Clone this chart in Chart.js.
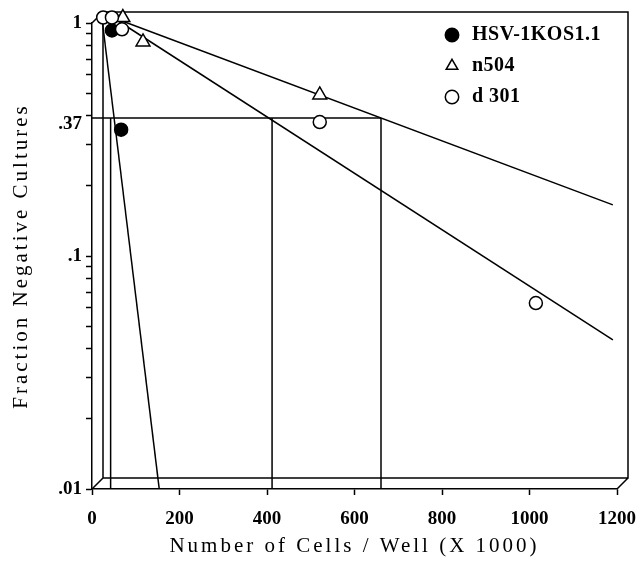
<!DOCTYPE html>
<html>
<head>
<meta charset="utf-8">
<script src="https://cdn.jsdelivr.net/npm/chart.js@4.4.1/dist/chart.umd.min.js"></script>
<style>
  html, body { margin: 0; padding: 0; background: #fff; }
</style>
</head>
<body>
<canvas id="myChart" width="638" height="565"></canvas>
<script>
// points (x in thousands of cells, y = fraction negative)
const hsvX = [33, 54];
const hsvY = [0.88, 0.33];
const n504X = [58, 104, 508];
const n504Y = [1, 0.785, 0.465];
const d301X = [13, 33, 56, 508, 1002];
const d301Y = [1, 1, 0.89, 0.356, 0.0595];

// fitted lines, two ends each
const hsvFitX = [10, 141];
const hsvFitY = [1, 0.0095];
const n504FitX = [35, 1178];
const n504FitY = [1, 0.157];
const d301FitX = [35, 1178];
const d301FitY = [1, 0.0413];

// the 1/e level and where the fits cross it
const level37 = 0.37;
const crossX = [30, 399, 648];

const xTicks = [0, 200, 400, 600, 800, 1000, 1200];
const yTicks = [1, 0.37, 0.1, 0.01];
const yTickLabels = ['1', '.37', '.1', '.01'];
const yMinor = [0.9, 0.8, 0.7, 0.6, 0.5, 0.4, 0.3, 0.2, 0.09, 0.08, 0.07, 0.06, 0.05, 0.04, 0.03, 0.02];

// front face of the box frame
const PLOT = { left: 92, top: 23, right: 617, bottom: 489 };
const DEPTH = 11;          // depth of the 3d frame, px
const HALF = DEPTH / 2;    // marks sit on the middle plane
const pxPerX = (PLOT.right - PLOT.left) / 1200;
const pxPerDecade = (PLOT.bottom - PLOT.top) / 2;
const xdMin = -HALF / pxPerX;
const xdMax = 1200 + xdMin;
const ydMax = Math.pow(10, -HALF / pxPerDecade);
const ydMin = ydMax / 100;

const pts = (xs, ys) => xs.map((x, i) => ({ x: x, y: ys[i] }));

Chart.defaults.font.family = "'Liberation Serif', 'Times New Roman', serif";
Chart.defaults.color = '#000';

const line = {
  showLine: true, borderColor: '#000', borderWidth: 1.5, pointRadius: 0,
  fill: false, order: 10, xAxisID: 'xd', yAxisID: 'yd', clip: false
};
const marks = { xAxisID: 'xd', yAxisID: 'yd', clip: false, borderColor: '#000', borderWidth: 1.5 };

const datasets = [
  { ...marks, label: 'HSV-1KOS1.1', data: pts(hsvX, hsvY), pointStyle: 'circle', pointRadius: 6.5, backgroundColor: '#000', order: 3 },
  { ...marks, label: 'n504', data: pts(n504X, n504Y), pointStyle: 'triangle', pointRadius: 8, backgroundColor: '#fff', order: 2 },
  { ...marks, label: 'd 301', data: pts(d301X, d301Y), pointStyle: 'circle', pointRadius: 6.5, backgroundColor: '#fff', order: 1 },
  { ...line, label: 'fit1', data: pts(hsvFitX, hsvFitY) },
  { ...line, label: 'fit2', data: pts(n504FitX, n504FitY) },
  { ...line, label: 'fit3', data: pts(d301FitX, d301FitY) },
  { ...line, label: 'e', data: [{ x: xdMin, y: level37 }, { x: crossX[2], y: level37 }] }
].concat(crossX.map(x => ({ ...line, label: 'drop', data: [{ x: x, y: level37 }, { x: x, y: ydMin }] })));

const frame3d = {
  id: 'frame3d',
  beforeDraw(chart) {
    chart.ctx.letterSpacing = '3px';   // spaced-out axis titles
  },
  afterLayout(chart) {
    // park the legend in the upper right of the plot
    const lg = chart.legend;
    const h = lg.height;
    lg.left = 431; lg.top = 14;
    lg.right = 638; lg.bottom = lg.top + h;
    lg.width = lg.right - lg.left;
    if (!lg._tight) {
      const draw = lg.draw.bind(lg);
      lg.draw = (area) => {
        const old = lg.ctx.letterSpacing;
        lg.ctx.letterSpacing = '0.5px';
        draw(area);
        lg.ctx.letterSpacing = old;
      };
      lg._tight = true;
    }
  },
  beforeDatasetsDraw(chart) {
    const { ctx, chartArea: a } = chart;
    ctx.save();
    ctx.strokeStyle = '#000';
    ctx.lineWidth = 1.5;
    ctx.beginPath();
    ctx.rect(a.left + DEPTH, a.top - DEPTH, a.right - a.left, a.bottom - a.top);
    ctx.moveTo(a.left, a.bottom); ctx.lineTo(a.left + DEPTH, a.bottom - DEPTH);
    ctx.moveTo(a.right, a.bottom); ctx.lineTo(a.right + DEPTH, a.bottom - DEPTH);
    ctx.moveTo(a.left, a.top); ctx.lineTo(a.left + DEPTH, a.top - DEPTH);
    ctx.stroke();
    ctx.restore();
    ctx.letterSpacing = '0px';
  }
};

const noEdgePad = (s) => { s.paddingLeft = 0; s.paddingRight = 0; s.paddingTop = 0; s.paddingBottom = 0; };

new Chart(document.getElementById('myChart'), {
  type: 'scatter',
  data: { datasets: datasets },
  options: {
    responsive: false,
    animation: false,
    devicePixelRatio: 1,
    layout: { padding: { top: PLOT.top, right: 638 - PLOT.right, left: 0, bottom: 0 } },
    plugins: {
      tooltip: { enabled: false },
      legend: {
        position: 'chartArea',
        align: 'start',
        labels: {
          filter: (item) => item.datasetIndex < 3,
          sort: (a, b) => a.datasetIndex - b.datasetIndex,
          usePointStyle: true,
          boxHeight: 9.5,
          boxWidth: 20,
          padding: 11,
          color: '#000',
          font: { size: 20, weight: 'bold' }
        }
      }
    },
    scales: {
      x: {
        type: 'linear', min: 0, max: 1200, position: 'bottom',
        afterBuildTicks: (s) => { s.ticks = xTicks.map(v => ({ value: v })); },
        afterFit: (s) => { s.height = 565 - PLOT.bottom; noEdgePad(s); },
        ticks: { z: 1, padding: 13, autoSkip: false, maxRotation: 0, font: { size: 19, weight: 'bold' }, callback: (v) => String(v) },
        grid: { drawOnChartArea: false, tickLength: 6, tickWidth: 1.5, tickColor: '#000' },
        border: { display: true, color: '#000', width: 1.5 },
        title: { display: true, text: 'Number of Cells / Well (X 1000)', font: { size: 21 }, padding: { top: 0, bottom: 6 } }
      },
      y: {
        type: 'logarithmic', min: 0.01, max: 1, position: 'left',
        afterBuildTicks: (s) => {
          s.ticks = yTicks.concat(yMinor).sort((a, b) => a - b).map(v => ({ value: v, major: false }));
        },
        afterFit: (s) => { s.width = PLOT.left; noEdgePad(s); },
        ticks: {
          z: 1, padding: 4, autoSkip: false, font: { size: 19, weight: 'bold' },
          callback: (v) => { const i = yTicks.indexOf(v); return i >= 0 ? yTickLabels[i] : ''; }
        },
        grid: {
          drawOnChartArea: false, tickLength: 6, tickWidth: 1.5,
          tickColor: (c) => (c.tick && c.tick.value === level37) ? 'rgba(0,0,0,0)' : '#000'
        },
        border: { display: true, color: '#000', width: 1.5 },
        title: { display: true, text: 'Fraction Negative Cultures', font: { size: 21 }, padding: { top: 9, bottom: 0 } }
      },
      xd: { type: 'linear', display: false, min: xdMin, max: xdMax },
      yd: { type: 'logarithmic', display: false, min: ydMin, max: ydMax }
    }
  },
  plugins: [frame3d]
});
</script>
</body>
</html>
